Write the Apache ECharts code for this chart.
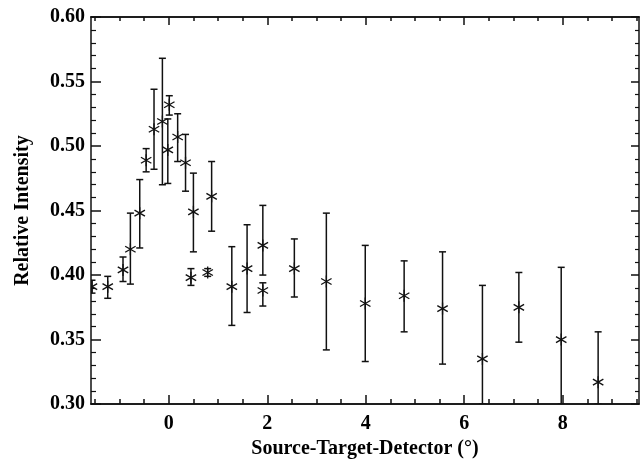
<!DOCTYPE html>
<html>
<head>
<meta charset="UTF-8">
<title>Relative Intensity vs Source-Target-Detector</title>
<script src="https://cdn.jsdelivr.net/npm/echarts@6/dist/echarts.min.js"></script>
<style>
  html, body { margin: 0; padding: 0; background: #fff; }
  #main { width: 643px; height: 464px; }
</style>
</head>
<body>
<div id="main"></div>
<script>
// angle (deg), intensity, lower and upper end of the error bar
var angles = [-1.56, -1.24, -0.93, -0.78, -0.59, -0.46, -0.30, -0.13, -0.02, 0.01, 0.18, 0.34,
  0.45, 0.50, 0.79, 0.87, 1.28, 1.59, 1.91, 1.91, 2.55, 3.20, 3.99, 4.78, 5.56, 6.37, 7.11, 7.97, 8.72];
var intensity = [0.391, 0.391, 0.404, 0.420, 0.448, 0.489, 0.513, 0.519, 0.497, 0.532, 0.507, 0.487,
  0.398, 0.449, 0.402, 0.461, 0.391, 0.405, 0.423, 0.388, 0.405, 0.395, 0.378, 0.384, 0.374, 0.335, 0.375, 0.350, 0.317];
var errLow = [0.386, 0.382, 0.395, 0.393, 0.421, 0.480, 0.482, 0.470, 0.471, 0.524, 0.488, 0.465,
  0.392, 0.418, 0.399, 0.434, 0.361, 0.371, 0.400, 0.376, 0.383, 0.342, 0.333, 0.356, 0.331, 0.300, 0.348, 0.300, 0.300];
var errHigh = [0.396, 0.399, 0.414, 0.448, 0.474, 0.498, 0.544, 0.568, 0.521, 0.539, 0.525, 0.509,
  0.405, 0.479, 0.405, 0.488, 0.422, 0.439, 0.454, 0.394, 0.428, 0.448, 0.423, 0.411, 0.418, 0.392, 0.402, 0.406, 0.356];

var xMajor = [0, 2, 4, 6, 8];
var xMinor = [-1.5, -1, -0.5, 0.5, 1, 1.5, 2.5, 3, 3.5, 4.5, 5, 5.5, 6.5, 7, 7.5, 8.5, 9, 9.5];

var chart = echarts.init(document.getElementById('main'));

var font = 'Liberation Serif, Times New Roman, serif';
var ink = '#111';

var points = angles.map(function (a, i) {
  return [a, intensity[i], errLow[i], errHigh[i]];
});

function xAx(pos, ticks, len, labels) {
  return {
    type: 'value', position: pos, min: -1.58, max: 9.55,
    axisLine: { show: true, onZero: false, lineStyle: { color: ink, width: 1.5 } },
    axisTick: { show: true, inside: true, length: len, customValues: ticks, lineStyle: { color: ink, width: 1.5 } },
    axisLabel: labels ? {
      show: true, customValues: ticks, margin: 10, color: '#000',
      fontFamily: font, fontWeight: 'bold', fontSize: 20
    } : { show: false },
    splitLine: { show: false }
  };
}

function yAx(pos, len, labels) {
  return {
    type: 'value', position: pos, min: 0.30, max: 0.60, interval: 0.05,
    axisLine: { show: true, onZero: false, lineStyle: { color: ink, width: 1.5 } },
    axisTick: { show: true, inside: true, length: len, lineStyle: { color: ink, width: 1.5 } },
    minorTick: { show: true, splitNumber: 5, length: len / 2, lineStyle: { color: ink, width: 1.2 } },
    axisLabel: labels ? {
      show: true, margin: 6, color: '#000',
      fontFamily: font, fontWeight: 'bold', fontSize: 20,
      formatter: function (v) { return v.toFixed(2); }
    } : { show: false },
    splitLine: { show: false }
  };
}

var bottomAxis = xAx('bottom', xMajor, 9, true);
bottomAxis.name = 'Source-Target-Detector (\u00b0)';
bottomAxis.nameLocation = 'middle';
bottomAxis.nameGap = 30;
bottomAxis.nameTextStyle = { fontFamily: font, fontWeight: 'bold', fontSize: 20, color: '#000' };

var leftAxis = yAx('left', 10, true);
leftAxis.name = 'Relative Intensity';
leftAxis.nameLocation = 'middle';
leftAxis.nameGap = 58;
leftAxis.nameTextStyle = { fontFamily: font, fontWeight: 'bold', fontSize: 20, color: '#000' };

var option = {
  backgroundColor: '#fff',
  animation: false,
  grid: { left: 91, right: 4, top: 17, bottom: 59 },
  xAxis: [
    bottomAxis,
    xAx('bottom', xMinor, 5, false),
    xAx('top', xMajor, 8, false),
    xAx('top', xMinor, 4, false)
  ],
  yAxis: [leftAxis, yAx('right', 8, false)],
  series: [{
    type: 'custom',
    xAxisIndex: 0,
    yAxisIndex: 0,
    clip: true,
    data: points,
    encode: { x: 0, y: [1, 2, 3] },
    renderItem: function (params, api) {
      var c = api.coord([api.value(0), api.value(1)]);
      var lo = api.coord([api.value(0), api.value(2)]);
      var hi = api.coord([api.value(0), api.value(3)]);
      var cap = 3.5, r = 6;
      var st = { stroke: ink, lineWidth: 1.5 };
      var mk = { stroke: ink, lineWidth: 1.3 };
      return {
        type: 'group',
        children: [
          { type: 'line', shape: { x1: c[0], y1: hi[1], x2: c[0], y2: lo[1] }, style: st },
          { type: 'line', shape: { x1: c[0] - cap, y1: hi[1], x2: c[0] + cap, y2: hi[1] }, style: st },
          { type: 'line', shape: { x1: c[0] - cap, y1: lo[1], x2: c[0] + cap, y2: lo[1] }, style: st },
          // asterisk marker
          { type: 'line', shape: { x1: c[0], y1: c[1] - r, x2: c[0], y2: c[1] + r }, style: mk },
          { type: 'line', shape: { x1: c[0] - r * 0.87, y1: c[1] - r * 0.5, x2: c[0] + r * 0.87, y2: c[1] + r * 0.5 }, style: mk },
          { type: 'line', shape: { x1: c[0] - r * 0.87, y1: c[1] + r * 0.5, x2: c[0] + r * 0.87, y2: c[1] - r * 0.5 }, style: mk }
        ]
      };
    }
  }]
};

chart.setOption(option);
</script>
</body>
</html>
